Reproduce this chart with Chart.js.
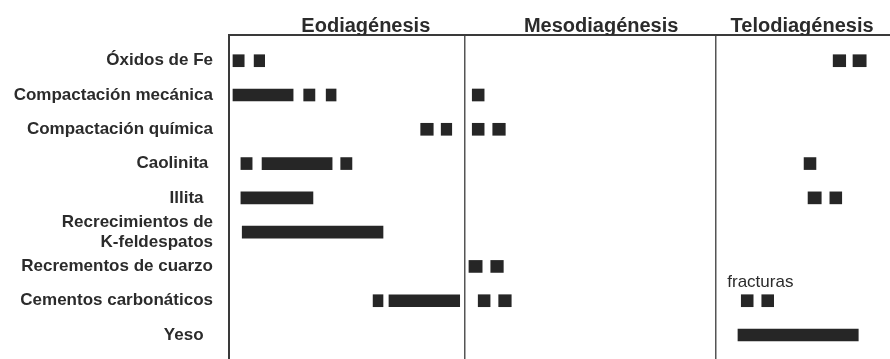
<!DOCTYPE html>
<html>
<head>
<meta charset="utf-8">
<script src="https://cdn.jsdelivr.net/npm/chart.js@4/dist/chart.umd.min.js"></script>
<style>
  html, body { margin: 0; padding: 0; background: #fff; }
  #wrap { width: 890px; height: 359px; }
</style>
</head>
<body>
<div id="wrap"><canvas id="DiagenesisChart"></canvas></div>
<script>
// processes (rows), top to bottom
const categories = [
    'Óxidos de Fe',
    'Compactación mecánica',
    'Compactación química',
    'Caolinita ',
    'Illita  ',
    ['Recrecimientos de', 'K-feldespatos'],
    'Recrementos de cuarzo',
    'Cementos carbonáticos',
    'Yeso  '
];

// stages on a relative time axis 0 - 100
const stages = ['Eodiagénesis', 'Mesodiagénesis', 'Telodiagénesis'];
const stageLimits = [35.7, 73.7];
const stageTicks = [20.7, 56.3, 86.7];

// [start, end] of every mark in each row
const oxidosFe = [[0.6, 2.3], [3.8, 5.4], [91.4, 93.3], [94.4, 96.4]];
const compMecanica = [[0.6, 9.7], [11.3, 13.0], [14.7, 16.2], [36.8, 38.6]];
const compQuimica = [[29.0, 30.9], [32.1, 33.7], [36.8, 38.6], [39.9, 41.8]];
const caolinita = [[1.8, 3.5], [5.0, 15.6], [16.9, 18.6], [87.0, 88.8]];
const illita = [[1.8, 12.7], [87.6, 89.6], [90.9, 92.7]];
const recrecKfeld = [[2.0, 23.3]];
const recremCuarzo = [[36.3, 38.3], [39.6, 41.5]];
const cemCarbonaticos = [[21.8, 23.3], [24.2, 34.9], [37.7, 39.5], [40.8, 42.7], [77.5, 79.3], [80.6, 82.4]];
const yeso = [[77.0, 95.2]];

const rows = [oxidosFe, compMecanica, compQuimica, caolinita, illita, recrecKfeld, recremCuarzo, cemCarbonaticos, yeso];

// note written over one mark: row, mark index, text
const notes = [{ row: 7, mark: 4, text: 'fracturas' }];

const points = [];
rows.forEach((marks, i) => {
    marks.forEach(m => points.push({ x: m, y: i }));
});

const lineColor = '#3a3a3a';
const textColor = '#2b2b2b';

const notePlugin = {
    id: 'notes',
    afterDatasetsDraw(chart) {
        const ctx = chart.ctx;
        const els = chart.getDatasetMeta(0).data;
        ctx.save();
        ctx.font = '17px "Liberation Sans", Arial, sans-serif';
        ctx.fillStyle = textColor;
        ctx.textAlign = 'left';
        ctx.textBaseline = 'middle';
        notes.forEach(n => {
            let idx = 0;
            for (let r = 0; r < n.row; r++) idx += rows[r].length;
            const el = els[idx + n.mark];
            if (!el) return;
            const left = Math.min(el.x, el.base);
            ctx.fillText(n.text, left - 14, el.y - 18);
        });
        ctx.restore();
    }
};

new Chart(document.getElementById('DiagenesisChart').getContext('2d'), {
    type: 'bar',
    data: {
        datasets: [{
            data: points,
            backgroundColor: '#262626',
            borderWidth: 0,
            barThickness: 12
        }]
    },
    options: {
        indexAxis: 'y',
        responsive: true,
        maintainAspectRatio: false,
        animation: false,
        layout: { padding: 0 },
        plugins: {
            legend: { display: false },
            tooltip: { enabled: false }
        },
        scales: {
            x: {
                type: 'linear',
                position: 'bottom',
                min: 0,
                max: 100,
                afterBuildTicks: s => { s.ticks = stageLimits.map(v => ({ value: v })); },
                afterFit: s => { s.height = 0; },
                ticks: { display: false },
                border: { display: false },
                grid: { drawTicks: false, color: '#555', lineWidth: 1.5 }
            },
            x2: {
                type: 'linear',
                position: 'top',
                min: 0,
                max: 100,
                afterBuildTicks: s => { s.ticks = stageTicks.map(v => ({ value: v })); },
                afterFit: s => { s.height = 35; },
                ticks: {
                    autoSkip: false,
                    maxRotation: 0,
                    padding: -3,
                    color: textColor,
                    font: { family: '"Liberation Sans", Arial, sans-serif', size: 20, weight: 'bold' },
                    callback: (v, i) => stages[i]
                },
                grid: { display: false, drawTicks: false },
                border: { display: true, color: lineColor, width: 2 }
            },
            y: {
                type: 'linear',
                reverse: true,
                offset: false,
                min: -0.75,
                max: 8.7,
                afterBuildTicks: s => { s.ticks = categories.map((c, i) => ({ value: i })); },
                afterFit: s => {
                    s.width = 229;
                    s.paddingTop = 0;
                    s.paddingBottom = 0;
                },
                ticks: {
                    autoSkip: false,
                    padding: 16,
                    color: textColor,
                    font: { family: '"Liberation Sans", Arial, sans-serif', size: 17, weight: 'bold' },
                    callback: v => categories[v]
                },
                grid: { display: false, drawTicks: false },
                border: { display: true, color: lineColor, width: 2 }
            }
        }
    },
    plugins: [notePlugin]
});
</script>
</body>
</html>
